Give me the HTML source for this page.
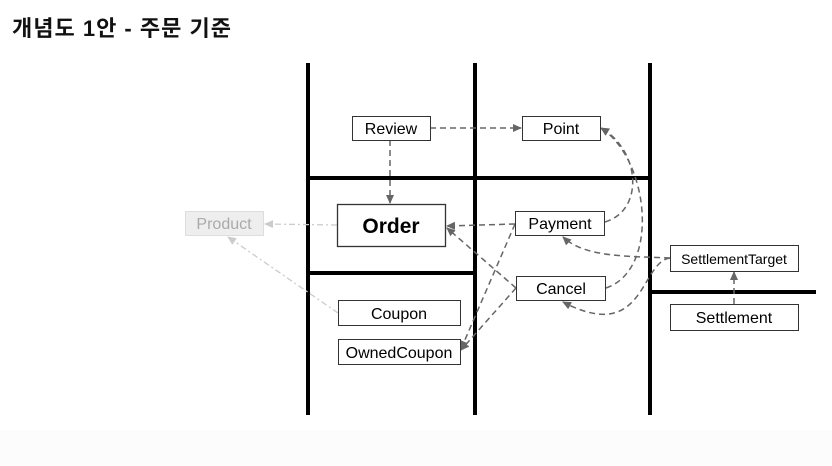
<!DOCTYPE html>
<html><head><meta charset="utf-8"><style>
html,body{margin:0;padding:0;background:#fff;}
svg{display:block;}
text{font-family:"Liberation Sans","Noto Sans CJK KR",sans-serif;}
</style></head><body>
<svg width="832" height="466" viewBox="0 0 832 466" xmlns="http://www.w3.org/2000/svg">
<defs>
<marker id="a" markerWidth="10" markerHeight="10" refX="8" refY="5" orient="auto" markerUnits="userSpaceOnUse"><path d="M0,1 L9,5 L0,9 z" fill="#666"/></marker>
<marker id="b" markerWidth="10" markerHeight="10" refX="8" refY="5" orient="auto" markerUnits="userSpaceOnUse"><path d="M0,1 L9,5 L0,9 z" fill="#ccc"/></marker>
</defs>
<rect x="0" y="430" width="832" height="36" fill="#fcfcfc"/>
<text x="12" y="36" font-size="22" font-weight="bold" letter-spacing="1" fill="#111">개념도 1안 - 주문 기준</text>
<g stroke="#000" stroke-width="4">
<line x1="308" y1="63" x2="308" y2="415"/>
<line x1="475" y1="63" x2="475" y2="415"/>
<line x1="650" y1="63" x2="650" y2="415"/>
<line x1="306" y1="178" x2="652" y2="178"/>
<line x1="306" y1="273" x2="477" y2="273"/>
<line x1="648" y1="292" x2="816" y2="292"/>
</g>
<g fill="none" stroke="#ccc" stroke-width="1.3" stroke-dasharray="6,3,2,3">
<line x1="337" y1="225" x2="265" y2="224" marker-end="url(#b)"/>
<line x1="338" y1="313" x2="228" y2="237" marker-end="url(#b)"/>
</g>
<g fill="none" stroke="#666" stroke-width="1.5" stroke-dasharray="6,4">
<line x1="430" y1="128" x2="521" y2="128" marker-end="url(#a)"/>
<line x1="390" y1="140" x2="390" y2="203" marker-end="url(#a)"/>
<line x1="515" y1="224" x2="447" y2="226" marker-end="url(#a)"/>
<line x1="516" y1="288" x2="447" y2="228" marker-end="url(#a)"/>
<line x1="515" y1="224" x2="461" y2="349" marker-end="url(#a)"/>
<line x1="516" y1="288" x2="461" y2="350" marker-end="url(#a)"/>
<path d="M605,222 C645,210 640,150 601,128" marker-end="url(#a)"/>
<path d="M606,288 C660,270 650,160 601,128" marker-end="url(#a)"/>
<path d="M670,258 C630,256 585,258 563,237" marker-end="url(#a)"/>
<path d="M670,258 C640,262 645,345 563,302" marker-end="url(#a)"/>
<line x1="734" y1="304" x2="734" y2="272" marker-end="url(#a)"/>
</g>
<g fill="#fff" stroke="#333" stroke-width="1">
<rect x="352.5" y="116.5" width="78" height="24"/>
<rect x="522.5" y="116.5" width="78" height="24"/>
<rect x="337.5" y="204.5" width="108" height="42" stroke-width="1.3"/>
<rect x="515.5" y="211.5" width="89" height="24"/>
<rect x="516.5" y="276.5" width="89" height="24"/>
<rect x="338.5" y="300.5" width="122" height="25"/>
<rect x="338.5" y="339.5" width="122" height="25"/>
<rect x="670.5" y="245.5" width="128" height="26"/>
<rect x="670.5" y="304.5" width="128" height="26"/>
</g>
<rect x="185.5" y="211.5" width="78" height="24" fill="#eee" stroke="#ddd"/>
<g font-size="16" text-anchor="middle" fill="#000">
<text x="391" y="134">Review</text>
<text x="561" y="134">Point</text>
<text x="391" y="233" font-size="21" font-weight="bold">Order</text>
<text x="560" y="229">Payment</text>
<text x="561" y="294">Cancel</text>
<text x="399" y="319">Coupon</text>
<text x="399" y="358">OwnedCoupon</text>
<text x="734" y="264" font-size="14">SettlementTarget</text>
<text x="734" y="323">Settlement</text>
<text x="224" y="229" fill="#aaa">Product</text>
</g>
</svg>
</body></html>
